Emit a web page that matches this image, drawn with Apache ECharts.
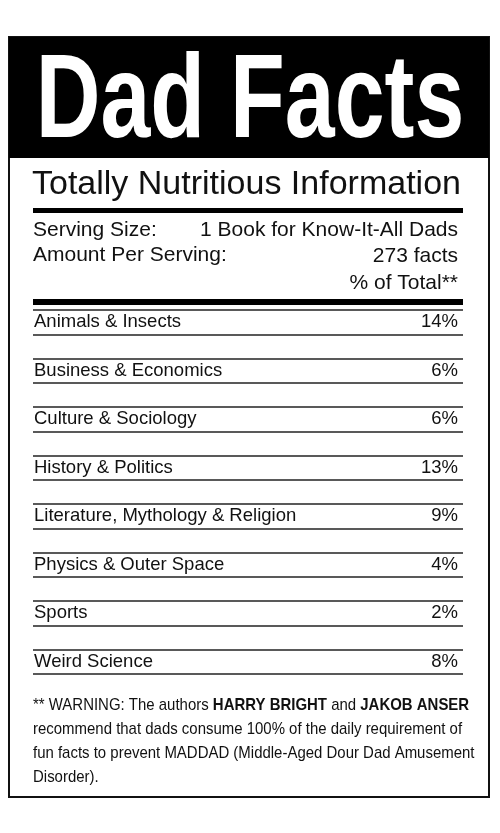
<!DOCTYPE html>
<html><head><meta charset="utf-8">
<script src="https://cdn.jsdelivr.net/npm/echarts@6/dist/echarts.min.js"></script>
<style>html,body{margin:0;padding:0;background:#fff}#c{width:500px;height:833px}</style>
</head><body><div id="c"></div>
<script>
const categories = ["Animals & Insects","Bacteria, Germs, Mold & Slime","Business & Economics","Climate, Disasters & Geography","Culture & Sociology","Food & Beverages","History & Politics","Language & Word Origins","Literature, Mythology & Religion","Math","Physics & Outer Space","Pop Culture","Sports","Technology","Weird Science"];
const percents = [14,2,6,4,6,7,13,10,9,1,4,12,2,2,8];
const percentLabels = ["14%","2%","6%","4%","6%","7%","13%","10%","9%","√1̅%","4%","12%","2%","2%","8%"];
const title = "Dad Facts";
const subtitle = "Totally Nutritious Information";
const servingSize = "1 Book for Know-It-All Dads";
const amount = "273 facts";

const chart = echarts.init(document.getElementById('c'), null, {renderer:'canvas'});
const F = 'Liberation Sans, Arial, sans-serif';
const txt = (x,y,text,o,extra) => Object.assign({type:'text',x,y,style:Object.assign({text,fill:'#111',font:'18px '+F,textVerticalAlign:'middle'},o||{})},extra||{});
const cond = {scaleX:0.88,originX:0,originY:0};
chart.setOption({
  animation:false,
  grid:{left:33,right:37,top:310,height:364},
  xAxis:{type:'value',min:0,max:100,show:false},
  yAxis:[
    {type:'category',data:categories,inverse:true,position:'left',
     axisLine:{show:false},axisTick:{show:false},
     axisLabel:{inside:true,margin:1,color:'#111',fontFamily:F,fontSize:18.5,align:'left'},
     splitLine:{show:true,interval:0,lineStyle:{color:'#222',width:1.5}}},
    {type:'category',data:percentLabels,inverse:true,position:'right',
     axisLine:{show:false},axisTick:{show:false},
     axisLabel:{inside:true,margin:5,color:'#111',fontFamily:F,fontSize:18.5,align:'right'},
     splitLine:{show:false}}
  ],
  series:[{type:'bar',data:percents,barWidth:0,itemStyle:{color:'transparent'},silent:true}],
  graphic:[
    {type:'rect',shape:{x:9,y:37,width:480,height:760},style:{fill:'none',stroke:'#111',lineWidth:2},z:0},
    {type:'rect',shape:{x:9,y:37,width:480,height:121},style:{fill:'#000'},z:1},
    {type:'text',x:250,y:104,scaleX:0.76,originX:0,originY:0,style:{text:title,fill:'#fff',font:'bold 118px '+F,textAlign:'center',textVerticalAlign:'middle'},z:2},
    txt(32,185,subtitle,{font:'34px '+F}),
    {type:'rect',shape:{x:33,y:208,width:430,height:5},style:{fill:'#000'}},
    txt(33,230,'Serving Size:',{font:'21px '+F}),
    txt(458,230,servingSize,{textAlign:'right',font:'21px '+F}),
    txt(33,255,'Amount Per Serving:',{font:'21px '+F}),
    txt(458,256,amount,{textAlign:'right',font:'21px '+F}),
    txt(458,283,'% of Total**',{textAlign:'right',font:'21px '+F}),
    {type:'rect',shape:{x:33,y:299,width:430,height:6},style:{fill:'#000'},z:5},
    {type:'text',x:33,y:705,scaleX:0.88,originX:0,originY:0,style:{text:'** WARNING: The authors {b|HARRY BRIGHT} and {b|JAKOB ANSER}',font:'17px '+F,fill:'#111',textVerticalAlign:'middle',rich:{b:{font:'bold 17px '+F,fill:'#111'}}}},
    txt(33,729,'recommend that dads consume 100% of the daily requirement of',{font:'17px '+F},cond),
    txt(33,753,'fun facts to prevent MADDAD (Middle-Aged Dour Dad Amusement',{font:'17px '+F},cond),
    txt(33,777,'Disorder).',{font:'17px '+F},cond)
  ]
});
</script></body></html>
